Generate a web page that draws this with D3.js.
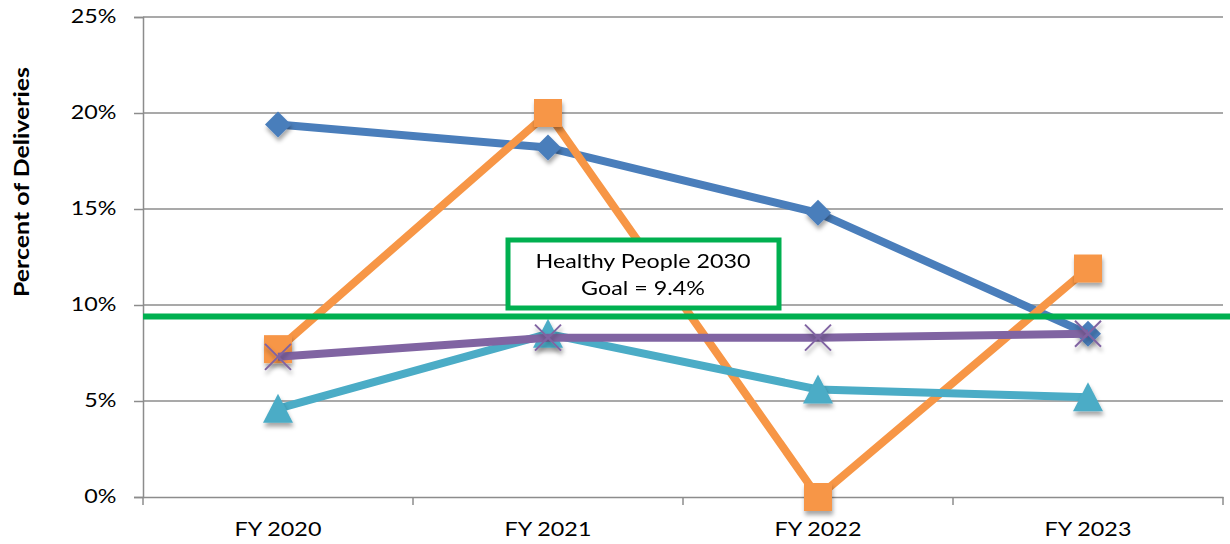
<!DOCTYPE html>
<html>
<head>
<meta charset="utf-8">
<script src="https://cdn.jsdelivr.net/npm/d3@7"></script>
<style>
  body { margin: 0; background: #fff; }
  text { font-family: Lato, "Open Sans", sans-serif; }
</style>
</head>
<body>
<script>
// values (percent of deliveries)
const years = ["FY 2020", "FY 2021", "FY 2022", "FY 2023"];
const blueVals = [19.4, 18.2, 14.8, 8.5];
const orangeVals = [7.7, 20.0, 0.0, 11.9];
const tealVals = [4.6, 8.5, 5.6, 5.2];
const purpleVals = [7.3, 8.3, 8.3, 8.5];
const goal = 9.4;
const yTicks = [0, 5, 10, 15, 20, 25];

const width = 1230, height = 544;
const plotLeft = 143, plotRight = 1223, plotTop = 17, plotBottom = 497;
const stretch = "scale(1.26,1)";   // original text looks widened
const fontFam = "Lato, 'Open Sans', sans-serif";

const svg = d3.select("body").append("svg")
    .attr("width", width)
    .attr("height", height);

// shadow under the markers
const defs = svg.append("defs");
defs.append("filter").attr("id", "shadow")
    .attr("x", "-50%").attr("y", "-50%").attr("width", "200%").attr("height", "200%")
  .append("feDropShadow")
    .attr("dx", 1).attr("dy", 4).attr("stdDeviation", 2)
    .attr("flood-color", "#000").attr("flood-opacity", 0.35);

const x = d3.scaleBand().domain(years).range([plotLeft, plotRight]);
const y = d3.scaleLinear().domain([0, 25]).range([plotBottom, plotTop]);
const cx = d => x(d) + x.bandwidth() / 2;

// grid
svg.append("g").selectAll("line")
    .data(yTicks.filter(d => d > 0))
    .enter().append("line")
    .attr("x1", plotLeft).attr("x2", plotRight)
    .attr("y1", d => y(d)).attr("y2", d => y(d))
    .attr("stroke", "#8c8c8c").attr("stroke-width", 1.5);

// y axis
const yAxis = svg.append("g")
    .attr("transform", "translate(" + plotLeft + ",0)")
    .call(d3.axisLeft(y).tickValues(yTicks).tickFormat(d => d + "%").tickSize(9).tickPadding(12));
yAxis.select(".domain").attr("stroke", "#8c8c8c").attr("stroke-width", 1.5);
yAxis.selectAll(".tick line").attr("stroke", "#8c8c8c").attr("stroke-width", 1.5);
yAxis.selectAll("text").attr("font-size", 18.5).attr("fill", "#000")
    .attr("transform", stretch)
    .style("font-family", fontFam);

// x axis
const xAxis = svg.append("g")
    .attr("transform", "translate(0," + plotBottom + ")")
    .call(d3.axisBottom(x).tickSize(0).tickPadding(26));
xAxis.select(".domain").attr("stroke", "#8c8c8c").attr("stroke-width", 1.5);
xAxis.selectAll("text").attr("font-size", 18.5).attr("fill", "#000")
    .attr("transform", stretch)
    .style("font-family", fontFam);
svg.append("g").selectAll("line")
    .data(d3.range(years.length + 1))
    .enter().append("line")
    .attr("x1", i => plotLeft + i * x.step()).attr("x2", i => plotLeft + i * x.step())
    .attr("y1", plotBottom).attr("y2", plotBottom + 8)
    .attr("stroke", "#8c8c8c").attr("stroke-width", 1.5);

// axis title
svg.append("text")
    .attr("transform", "translate(29,182) rotate(-90)")
    .attr("text-anchor", "middle")
    .attr("font-size", 21).attr("font-weight", "bold")
    .attr("textLength", 230).attr("lengthAdjust", "spacingAndGlyphs")
    .text("Percent of Deliveries");

const line = d3.line().x((d, i) => cx(years[i])).y(d => y(d));

const series = [
    {vals: blueVals, color: "#4a7ebb", marker: "diamond"},
    {vals: orangeVals, color: "#f79646", marker: "square"},
    {vals: tealVals, color: "#4bacc6", marker: "triangle"},
    {vals: purpleVals, color: "#8064a2", marker: "x"}
];

series.forEach(function(s) {
    svg.append("path")
        .attr("d", line(s.vals))
        .attr("fill", "none")
        .attr("stroke", s.color)
        .attr("stroke-width", 8)
        .attr("stroke-linejoin", "round");

    const m = svg.append("g").attr("filter", "url(#shadow)")
        .selectAll("path").data(s.vals).enter().append("path")
        .attr("transform", (d, i) => "translate(" + cx(years[i]) + "," + y(d) + ")");

    if (s.marker == "diamond") {
        m.attr("d", "M0,-13L13,0L0,13L-13,0Z").attr("fill", s.color);
    } else if (s.marker == "square") {
        m.attr("d", "M-14,-14H14V14H-14Z").attr("fill", s.color);
    } else if (s.marker == "triangle") {
        m.attr("d", "M0,-15L15,14H-15Z").attr("fill", s.color);
    } else {
        m.attr("d", "M-13,-13L13,13M13,-13L-13,13")
            .attr("fill", "none").attr("stroke", s.color).attr("stroke-width", 2);
    }
});

// goal line
svg.append("line")
    .attr("x1", plotLeft).attr("x2", width)
    .attr("y1", y(goal)).attr("y2", y(goal))
    .attr("stroke", "#00b050").attr("stroke-width", 6);

// goal box
svg.append("rect")
    .attr("x", 508).attr("y", 240)
    .attr("width", 271).attr("height", 68)
    .attr("fill", "#fff")
    .attr("stroke", "#00b050").attr("stroke-width", 5);

const label = svg.append("text")
    .attr("transform", "translate(643,0) " + stretch)
    .attr("text-anchor", "middle")
    .attr("font-size", 18.5)
    .attr("fill", "#000");
label.append("tspan").attr("x", 0).attr("y", 268).text("Healthy People 2030");
label.append("tspan").attr("x", 0).attr("y", 295).text("Goal = " + goal + "%");
</script>
</body>
</html>
